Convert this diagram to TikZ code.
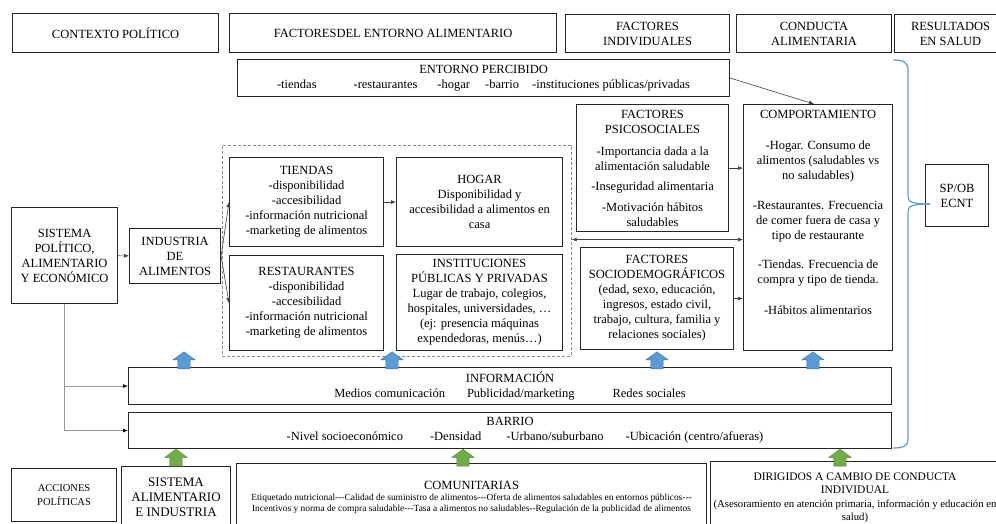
\documentclass[tikz,border=0pt]{standalone}
\usepackage{fontspec}
\setmainfont{Liberation Serif}
\usetikzlibrary{shapes.arrows, arrows.meta, positioning, calc}

\definecolor{infoblue}{HTML}{5B9BD5}
\definecolor{infoblueline}{HTML}{41719C}
\definecolor{actgreen}{HTML}{70AD47}
\definecolor{actgreenline}{HTML}{507E32}

\tikzstyle{block} = [rectangle, draw=black!85, line width=1.1pt, align=center, inner sep=0pt, anchor=north west, font=\fontsize{12.5}{15}\selectfont]
\tikzstyle{envzone} = [rectangle, draw=black!45, line width=0.7pt, dash pattern=on 3pt off 2pt, inner sep=0pt, anchor=north west]
\tikzstyle{txt} = [align=center, inner sep=0pt, font=\fontsize{12.5}{15}\selectfont]
\tikzstyle{flow} = [->, >={Latex[length=5pt, width=4pt]}, line width=0.6pt, black!75]
\tikzstyle{link} = [line width=0.8pt, black!40]
\tikzstyle{feed} = [->, >={Latex[length=5pt, width=4pt, color=black]}, line width=0.8pt, black!40]
\tikzstyle{upblue} = [single arrow, draw=infoblueline, fill=infoblue, line width=0.4pt, shape border rotate=90, anchor=tail, minimum height=17pt, inner sep=6pt, single arrow head extend=5pt, single arrow tip angle=108, single arrow head indent=0pt]
\tikzstyle{upgreen} = [single arrow, draw=actgreenline, fill=actgreen, line width=0.4pt, shape border rotate=90, anchor=tip, minimum height=15pt, inner sep=6pt, single arrow head extend=5pt, single arrow tip angle=108, single arrow head indent=0pt]
\tikzstyle{brace} = [line width=1.2pt, infoblue]

\begin{document}
\begin{tikzpicture}[x=1pt, y=-1pt]

	\clip (0,0) rectangle (996,524);

	% Headers
	\node (hdr_contexto) [block, minimum width=206pt, minimum height=39pt] at (12,13) {CONTEXTO POLÍTICO};
	\node (hdr_entorno) [block, minimum width=327pt, minimum height=39pt] at (229,13) {FACTORESDEL ENTORNO ALIMENTARIO};
	\node (hdr_individual) [block, minimum width=164pt, minimum height=38pt] at (565,14) {FACTORES\\INDIVIDUALES};
	\node (hdr_conducta) [block, minimum width=155pt, minimum height=38pt] at (736,14) {CONDUCTA\\ALIMENTARIA};
	\node (hdr_salud) [block, minimum width=112pt, minimum height=38pt] at (894,14) {RESULTADOS\\EN SALUD};

	% Entorno percibido
	\node (percibido) [block, minimum width=492pt, minimum height=37pt] at (237,59) {ENTORNO PERCIBIDO\\-tiendas\hspace{37pt}-restaurantes\hspace{20pt}-hogar\hspace{15pt}-barrio\hspace{13pt}-instituciones públicas/privadas};

	% Contexto politico
	\node (sistema) [block, minimum width=106pt, minimum height=96pt] at (11,207) {SISTEMA\\POLÍTICO,\\ALIMENTARIO\\Y ECONÓMICO};
	\node (industria) [block, minimum width=91pt, minimum height=55pt] at (129,228) {INDUSTRIA\\DE\\ALIMENTOS};

	% Entorno alimentario
	\node (entorno) [envzone, minimum width=349pt, minimum height=211pt] at (222,145) {};
	\node (tiendas) [block, minimum width=154pt, minimum height=89pt] at (229,157) {TIENDAS\\-disponibilidad\\-accesibilidad\\-información nutricional\\-marketing de alimentos};
	\node (restaurantes) [block, minimum width=154pt, minimum height=95pt] at (229,255) {RESTAURANTES\\-disponibilidad\\-accesibilidad\\-información nutricional\\-marketing de alimentos};
	\node (hogar) [block, minimum width=166pt, minimum height=89pt] at (396,157) {HOGAR\\Disponibilidad y\\accesibilidad a alimentos en\\casa};
	\node (instituciones) [block, minimum width=166pt, minimum height=96pt] at (396,254) {INSTITUCIONES\\PÚBLICAS Y PRIVADAS\\Lugar de trabajo, colegios,\\hospitales, universidades, \dots\\(ej: presencia máquinas\\expendedoras, menús\dots)};

	% Factores individuales
	\node (psico) [block, minimum width=152pt, minimum height=127pt] at (576,104) {FACTORES\\PSICOSOCIALES\\[7pt]-Importancia dada a la\\alimentación saludable\\[5pt]-Inseguridad alimentaria\\[6pt]-Motivación hábitos\\saludables};
	\node (socio) [block, minimum width=153pt, minimum height=102pt] at (580,247) {FACTORES\\SOCIODEMOGRÁFICOS\\(edad, sexo, educación,\\ingresos, estado civil,\\trabajo, cultura, familia y\\relaciones sociales)};

	% Conducta alimentaria
	\node (comport) [block, minimum width=149pt, minimum height=246pt] at (743,104) {};
	\node (comport_text) [txt, below=6pt of comport.north] {COMPORTAMIENTO\\[16pt]-Hogar. Consumo de\\alimentos (saludables vs\\no saludables)\\[15pt]-Restaurantes. Frecuencia\\de comer fuera de casa y\\tipo de restaurante\\[14pt]-Tiendas. Frecuencia de\\compra y tipo de tienda.\\[16pt]-Hábitos alimentarios};

	% Resultados en salud
	\node (spob) [block, minimum width=63pt, minimum height=62pt] at (925,164) {SP/OB\\ECNT};

	% Informacion y barrio
	\node (informacion) [block, minimum width=763pt, minimum height=37pt] at (128,367) {INFORMACIÓN\\Medios comunicación\hspace{22pt}Publicidad/marketing\hspace{38pt}Redes sociales};
	\node (barrio) [block, minimum width=763pt, minimum height=36pt] at (128,412) {BARRIO\\\hspace*{30pt}-Nivel socioeconómico\hspace{27pt}-Densidad\hspace{25pt}-Urbano/suburbano\hspace{22pt}-Ubicación (centro/afueras)};

	% Acciones politicas
	\node (acciones) [block, minimum width=105pt, minimum height=53pt, font=\fontsize{10.5}{14}\selectfont] at (11,468) {ACCIONES\\POLÍTICAS};
	\node (sis_alim) [block, minimum width=109pt, minimum height=62pt, font=\fontsize{13}{15}\selectfont] at (121,466) {SISTEMA\\ALIMENTARIO\\E INDUSTRIA};
	\node (comunitarias) [block, minimum width=470pt, minimum height=68pt, font=\fontsize{9.4}{11}\selectfont] at (236,463) {{\fontsize{12.5}{15}\selectfont COMUNITARIAS}\\Etiquetado nutricional-{}-{}-Calidad de suministro de alimentos-{}-{}-Oferta de alimentos saludables en entornos públicos-{}-{}-\\Incentivos y norma de compra saludable-{}-{}-Tasa a alimentos no saludables-{}-Regulación de la publicidad de alimentos};
	\node (dirigidos) [block, minimum width=300pt, minimum height=75pt] at (710,461) {};
	\node (dirigidos_text) [txt, font=\fontsize{10.7}{13.5}\selectfont] at (855,498) {{\fontsize{11.5}{14}\selectfont DIRIGIDOS A CAMBIO DE CONDUCTA}\\{\fontsize{11.5}{14}\selectfont INDIVIDUAL}\\(Asesoramiento en atención primaria, información y educación en\\salud)};

	% Arrows - flujo
	\draw[flow] (sistema) -- (industria);
	\draw[flow] (industria.east) -- (tiendas.west);
	\draw[flow] (industria.east) -- (restaurantes.west);
	\draw[flow] (tiendas) -- (hogar);
	\draw[flow] (percibido.east) -- ([xshift=-4pt]comport.north);
	\draw[flow] (psico.east) -- (psico.east -| comport.west);
	\draw[flow] (socio.east) -- (socio.east -| comport.west);
	\coordinate (gap) at ($(psico.south)!0.5!(socio.north)$);
	\draw[flow, <->] (entorno.east |- gap) -- (comport.west |- gap);

	% Arrows - sistema a informacion y barrio
	\draw[link] (sistema.south) -- (sistema.south |- barrio.west);
	\draw[feed] (sistema.south |- informacion.west) -- (informacion.west);
	\draw[feed] (sistema.south |- barrio.west) -- (barrio.west);

	% Block arrows
	\node (info_up1) [upblue] at (184,369) {};
	\node (info_up2) [upblue] at (392,369) {};
	\node (info_up3) [upblue] at (657,369) {};
	\node (info_up4) [upblue] at (813,369) {};
	\node (accion_up1) [upgreen] at (176,449) {};
	\node (accion_up2) [upgreen] at (463,449) {};
	\node (accion_up3) [upgreen] at (840,449) {};

	% Llave resultados
	\draw[brace] (893,60) .. controls (903,60) and (908,62) .. (908,70) -- (908,196) .. controls (908,202) and (912,204) .. (930,204);
	\draw[brace] (930,204) .. controls (912,204) and (908,206) .. (908,212) -- (908,440) .. controls (908,446) and (903,448) .. (893,448);

\end{tikzpicture}
\end{document}
